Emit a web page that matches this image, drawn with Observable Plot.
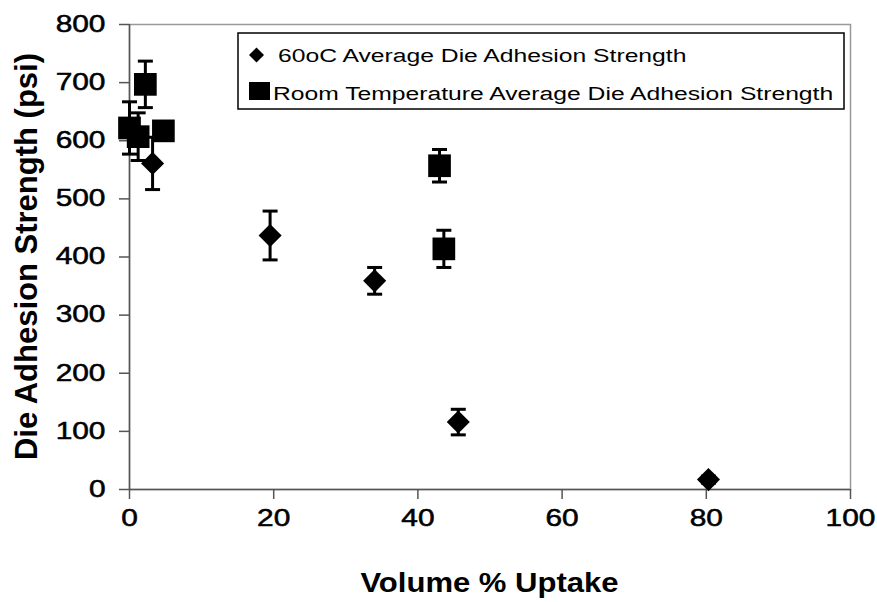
<!DOCTYPE html>
<html>
<head>
<meta charset="utf-8">
<script src="https://cdn.jsdelivr.net/npm/d3@7"></script>
<script src="https://cdn.jsdelivr.net/npm/@observablehq/plot@0.6"></script>
<style>
  html, body { margin: 0; padding: 0; background: #fff; }
  svg { font-family: "Liberation Sans", Arial, sans-serif; }
</style>
</head>
<body>
<div id="chart"></div>
<script>
// ---- data ----
const xTicks = [0, 20, 40, 60, 80, 100];
const yTicks = [0, 100, 200, 300, 400, 500, 600, 700, 800];

const hotUptake   = [3.2, 19.5, 34.0, 45.6, 80.3];
const hotStrength = [561, 437, 359, 116, 17];
const hotError    = [45, 42, 23, 22, 6];

const rtUptake   = [0.0, 1.2, 2.2, 4.7, 43.0, 43.6];
const rtStrength = [622, 607, 697, 617, 557, 414];
const rtError    = [45, 41, 40, 10, 28, 32];

const seriesNames = ["60oC Average Die Adhesion Strength", "Room Temperature Average Die Adhesion Strength"];
const xLabel = "Volume % Uptake";
const yLabel = "Die Adhesion Strength (psi)";

const hot = hotUptake.map((x, i) => ({x, y: hotStrength[i], e: hotError[i]}));
const rt = rtUptake.map((x, i) => ({x, y: rtStrength[i], e: rtError[i]}));

const cap = {draw(ctx) { ctx.moveTo(-7.5, 0); ctx.lineTo(7.5, 0); }};

function errorMarks(data) {
  return [
    Plot.ruleX(data, {x: "x", y1: d => d.y - d.e, y2: d => d.y + d.e, stroke: "black", strokeWidth: 3}),
    Plot.dot(data, {x: "x", y: d => d.y + d.e, symbol: cap, r: 1, fill: "none", stroke: "black", strokeWidth: 3}),
    Plot.dot(data, {x: "x", y: d => d.y - d.e, symbol: cap, r: 1, fill: "none", stroke: "black", strokeWidth: 3})
  ];
}

const chart = Plot.plot({
  width: 877,
  height: 602,
  marginLeft: 129,
  marginRight: 27,
  marginTop: 24,
  marginBottom: 113,
  x: {domain: [0, 100]},
  y: {domain: [0, 800]},
  marks: [
    Plot.frame({stroke: "#999", strokeWidth: 1.5}),
    Plot.ruleX([0], {stroke: "#555", strokeWidth: 1.5}),
    Plot.ruleY([0], {stroke: "#555", strokeWidth: 1.5}),
    Plot.axisX({ticks: xTicks, tickSize: 10, tickPadding: 10, label: null, fontSize: 23, tickFormat: d => String(d)}),
    Plot.axisY({ticks: yTicks, tickSize: 10, tickPadding: 14, label: null, fontSize: 23, tickFormat: d => String(d)}),
    ...errorMarks(hot),
    Plot.dot(hot, {x: "x", y: "y", symbol: "diamond2", r: 10.4, fill: "black"}),
    ...errorMarks(rt),
    Plot.dot(rt, {x: "x", y: "y", symbol: "square", r: 12.8, fill: "black"})
  ]
});
document.getElementById("chart").appendChild(chart);

const svg = d3.select(chart);
svg.selectAll('g[aria-label="x-axis tick"], g[aria-label="y-axis tick"]')
  .attr("stroke", "#555").attr("stroke-width", 1.5);

function stretch(sel, k) {
  sel.each(function() {
    const tr = this.getAttribute("transform") || "";
    const xa = this.getAttribute("x");
    if (xa != null && !isNaN(+xa)) this.setAttribute("x", +xa / k);
    this.setAttribute("transform", `${tr} scale(${k},1)`);
  });
}
const tickLabels = svg.selectAll('g[aria-label="x-axis tick label"] text, g[aria-label="y-axis tick label"] text');
tickLabels.attr("fill", "black").attr("stroke", "black").attr("stroke-width", 0.5);
stretch(tickLabels, 1.3);

const sx = chart.scale("x"), sy = chart.scale("y");
const cx = (sx.apply(0) + sx.apply(100)) / 2;
const cy = (sy.apply(0) + sy.apply(800)) / 2;

// axis titles
svg.append("text")
  .attr("text-anchor", "middle")
  .attr("font-weight", "bold")
  .attr("font-size", 27)
  .attr("fill", "black")
  .attr("transform", `translate(${cx},592) scale(1.15,1)`)
  .text(xLabel);
svg.append("text")
  .attr("text-anchor", "middle")
  .attr("font-weight", "bold")
  .attr("font-size", 31)
  .attr("fill", "black")
  .attr("transform", `translate(37,${cy}) rotate(-90)`)
  .text(yLabel);

// legend
const lg = svg.append("g").attr("text-anchor", "start");
lg.append("rect").attr("x", 238).attr("y", 33).attr("width", 606).attr("height", 76)
  .attr("fill", "white").attr("stroke", "black").attr("stroke-width", 1.5);
lg.append("path").attr("transform", "translate(256.5,55)")
  .attr("d", "M0,-7.5L7.5,0L0,7.5L-7.5,0Z").attr("fill", "black");
lg.append("rect").attr("x", 249).attr("y", 82).attr("width", 21).attr("height", 18).attr("fill", "black");
lg.append("text").attr("font-size", 19).attr("fill", "black").attr("text-anchor", "start")
  .attr("transform", "translate(278,62) scale(1.3,1)").text(seriesNames[0]);
lg.append("text").attr("font-size", 19).attr("fill", "black").attr("text-anchor", "start")
  .attr("transform", "translate(273,100) scale(1.3,1)").text(seriesNames[1]);
</script>
</body>
</html>
